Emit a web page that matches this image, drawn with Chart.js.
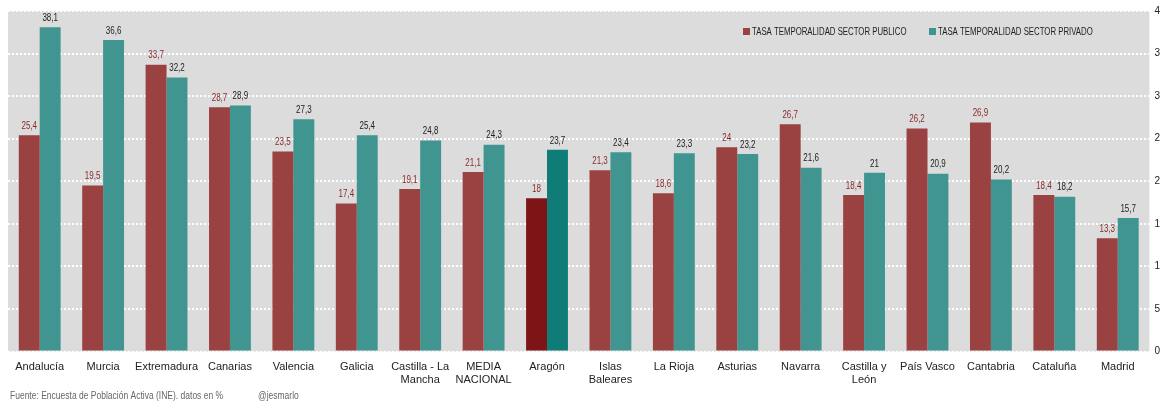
<!DOCTYPE html>
<html>
<head>
<meta charset="utf-8">
<script src="https://cdn.jsdelivr.net/npm/chart.js@4"></script>
<style>
  html, body { margin: 0; padding: 0; background: #fff; }
  #wrap { position: relative; width: 1165px; height: 403px; }
</style>
</head>
<body>
<div id="wrap"><canvas id="myChart" width="1165" height="403"></canvas></div>
<script>
const regiones = ['Andalucía', 'Murcia', 'Extremadura', 'Canarias', 'Valencia', 'Galicia',
  ['Castilla - La', 'Mancha'], ['MEDIA', 'NACIONAL'], 'Aragón', ['Islas', 'Baleares'],
  'La Rioja', 'Asturias', 'Navarra', ['Castilla y', 'León'], 'País Vasco', 'Cantabria',
  'Cataluña', 'Madrid'];
const publico = [25.4, 19.5, 33.7, 28.7, 23.5, 17.4, 19.1, 21.1, 18, 21.3, 18.6, 24, 26.7, 18.4, 26.2, 26.9, 18.4, 13.3];
const privado = [38.1, 36.6, 32.2, 28.9, 27.3, 25.4, 24.8, 24.3, 23.7, 23.4, 23.3, 23.2, 21.6, 21, 20.9, 20.2, 18.2, 15.7];
const ticksY = [0, 5, 10, 15, 20, 25, 30, 35, 40];
const fuente = 'Fuente: Encuesta de Población Activa (INE). datos en %';
const autor = '@jesmarlo';

const FONT = "'Liberation Sans', Arial, sans-serif";

const colPub = publico.map((v, i) => i === 8 ? '#7d1517' : '#9a4142');
const colPriv = privado.map((v, i) => i === 8 ? '#0f7c77' : '#419591');

// texto estrechado, la fuente original es condensada
function textoEstrecho(ctx, txt, x, y, esc) {
  ctx.save();
  ctx.translate(x, y);
  ctx.scale(esc, 1);
  ctx.fillText(txt, 0, 0);
  ctx.restore();
}

const fondo = {
  id: 'fondo',
  beforeDraw(chart) {
    const a = chart.chartArea;
    const ctx = chart.ctx;
    ctx.save();
    ctx.fillStyle = '#dcdcdc';
    ctx.fillRect(a.left, a.top, a.right - a.left, a.bottom - a.top);
    ctx.restore();
  }
};

const etiquetas = {
  id: 'etiquetas',
  afterDatasetsDraw(chart) {
    const ctx = chart.ctx;
    ctx.save();
    ctx.font = '10px ' + FONT;
    ctx.textAlign = 'center';
    ctx.textBaseline = 'bottom';
    chart.data.datasets.forEach((ds, di) => {
      chart.getDatasetMeta(di).data.forEach((bar, i) => {
        ctx.fillStyle = di === 0 ? '#8a2a2b' : '#222';
        textoEstrecho(ctx, String(ds.data[i]).replace('.', ','), bar.x, bar.y - 4, 0.8);
      });
    });

    // leyenda dentro del area
    ctx.textAlign = 'left';
    ctx.textBaseline = 'middle';
    ctx.font = '10px ' + FONT;
    let x = 743, y = 31;
    chart.data.datasets.forEach((ds, di) => {
      ctx.fillStyle = di === 0 ? '#9a4142' : '#419591';
      ctx.fillRect(x, y - 3, 7, 7);
      ctx.fillStyle = '#222';
      textoEstrecho(ctx, ds.label, x + 9, y + 1, 0.78);
      x += 186;
    });

    // fuente
    ctx.fillStyle = '#666';
    ctx.font = '10px ' + FONT;
    textoEstrecho(ctx, fuente, 10, 396, 0.85);
    textoEstrecho(ctx, autor, 258, 396, 0.85);
    ctx.restore();
  }
};

new Chart(document.getElementById('myChart'), {
  type: 'bar',
  data: {
    labels: regiones,
    datasets: [{
      label: 'TASA TEMPORALIDAD SECTOR PUBLICO',
      data: publico,
      backgroundColor: colPub,
      borderWidth: 0
    }, {
      label: 'TASA TEMPORALIDAD SECTOR PRIVADO',
      data: privado,
      backgroundColor: colPriv,
      borderWidth: 0
    }]
  },
  options: {
    responsive: false,
    animation: false,
    layout: { padding: { left: 8, top: -5, right: 0, bottom: 7 } },
    datasets: { bar: { categoryPercentage: 0.66, barPercentage: 1 } },
    scales: {
      x: {
        grid: { display: false, drawTicks: false },
        border: { display: false },
        ticks: { color: '#222', font: { family: FONT, size: 11 }, maxRotation: 0, autoSkip: false, padding: 9 }
      },
      y: {
        position: 'right',
        min: 0, max: 40,
        afterBuildTicks(axis) { axis.ticks = ticksY.map(v => ({ value: v })); },
        grid: { color: '#ffffff', lineWidth: 2, drawTicks: false },
        border: { display: false, dash: [2, 2] },
        ticks: {
          color: '#222', font: { family: FONT, size: 10 }, padding: 5,
          callback: v => String(v)[0]
        }
      }
    },
    plugins: {
      legend: { display: false },
      tooltip: { enabled: false }
    }
  },
  plugins: [fondo, etiquetas]
});
</script>
</body>
</html>
